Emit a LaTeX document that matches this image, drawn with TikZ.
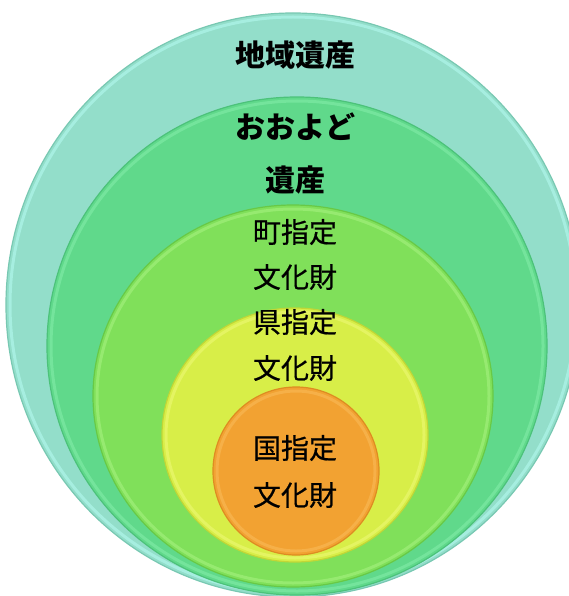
\documentclass[tikz,border=0pt]{standalone}
\usepackage{fontspec}
\newfontfamily\jp{Noto Sans CJK JP}
\newfontfamily\jpm[FakeBold=0.6]{Noto Sans CJK JP}
\definecolor{c1f}{HTML}{93DECA}\definecolor{c1d}{HTML}{78C8B2}\definecolor{c1l}{HTML}{A6EEE0}
\definecolor{c2f}{HTML}{60D98B}\definecolor{c2d}{HTML}{4CC27A}\definecolor{c2l}{HTML}{74E49C}
\definecolor{c3f}{HTML}{80E05A}\definecolor{c3d}{HTML}{68C946}\definecolor{c3l}{HTML}{96EA70}
\definecolor{c4f}{HTML}{D8EE48}\definecolor{c4d}{HTML}{C2D636}\definecolor{c4l}{HTML}{E4F462}
\definecolor{c5f}{HTML}{F2A232}\definecolor{c5d}{HTML}{DE8C22}\definecolor{c5l}{HTML}{F6B048}
\tikzset{
  ring/.style={line width=1.2pt},
  rim/.style={line width=3pt},
  lbl/.style={font=\jpm\fontsize{28}{30}\selectfont, inner sep=0pt, text=black},
  lblb/.style={font=\jp\bfseries\fontsize{30}{32}\selectfont, inner sep=0pt, text=black}
}
\begin{document}
\begin{tikzpicture}[x=1pt,y=-1pt]
\useasboundingbox (0,0) rectangle (569,596);
\clip (0,0) rectangle (569,596);
\fill[white] (0,0) rectangle (569,596);
\filldraw[ring, fill=c1f, draw=c1d] (293,305) ellipse [x radius=287, y radius=292];
\draw[rim, c1l] (293,305) ellipse [x radius=283, y radius=288];
\filldraw[ring, fill=c2f, draw=c2d] (297,346) ellipse [x radius=250, y radius=249];
\draw[rim, c2l] (297,346) ellipse [x radius=246, y radius=245];
\filldraw[ring, fill=c3f, draw=c3d] (293,396) ellipse [x radius=200, y radius=191];
\draw[rim, c3l] (293,396) ellipse [x radius=196, y radius=187];
\filldraw[ring, fill=c4f, draw=c4d] (295,435) ellipse [x radius=133, y radius=127];
\draw[rim, c4l] (295,435) ellipse [x radius=129, y radius=123];
\filldraw[ring, fill=c5f, draw=c5d] (296,471) ellipse [x radius=83, y radius=84];
\draw[rim, c5l] (296,471) ellipse [x radius=79, y radius=80];
\node[lblb] (t1) at (295,55) {地域遺産};
\node[lblb] (t2a) at (295,127) {おおよど};
\node[lblb] (t2b) at (295,180) {遺産};
\node[lbl] (t3a) at (295,232) {町指定};
\node[lbl] (t3b) at (295,277) {文化財};
\node[lbl] (t4a) at (295,322) {県指定};
\node[lbl] (t4b) at (295,368) {文化財};
\node[lbl] (t5a) at (295,448) {国指定};
\node[lbl] (t5b) at (295,495) {文化財};
\end{tikzpicture}
\end{document}
